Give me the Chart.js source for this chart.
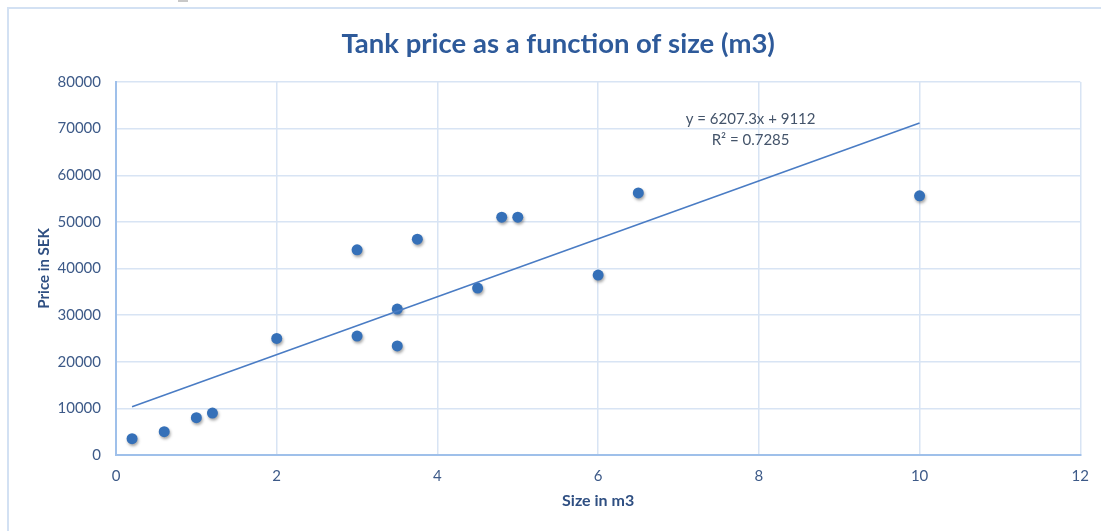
<!DOCTYPE html>
<html>
<head>
<meta charset="utf-8">
<script src="https://cdn.jsdelivr.net/npm/chart.js@4/dist/chart.umd.min.js"></script>
<style>
  html, body { margin: 0; padding: 0; background: #ffffff; }
  canvas { display: block; }
</style>
</head>
<body>
<canvas id="c" width="1101" height="531"></canvas>
<script>
// Tank sizes (m3) and prices (SEK)
const sizes  = [0.2, 0.6, 1.0, 1.2, 2.0, 3.0, 3.0, 3.5, 3.5, 3.75, 4.5, 4.8, 5.0, 6.0, 6.5, 10.0];
const prices = [3500, 5000, 8000, 9000, 25000, 44000, 25500, 31300, 23400, 46300, 35800, 51000, 51000, 38600, 56200, 55600];

// Linear trendline as stated in the equation label
const slope = 6207.3;
const intercept = 9112;
const rSquared = 0.7285;
const trendRange = [0.2, 10];

const xTicks = [0, 2, 4, 6, 8, 10, 12];
const yTicks = [0, 10000, 20000, 30000, 40000, 50000, 60000, 70000, 80000];

const titleText = 'Tank price as a function of size (m3)';
const xTitle = 'Size in m3';
const yTitle = 'Price in SEK';

const points = sizes.map((x, i) => ({ x: x, y: prices[i] }));
const trendPoints = trendRange.map(x => ({ x: x, y: intercept + slope * x }));

const FONT = 'Lato, "Open Sans", "DejaVu Sans", sans-serif';
const GRID = '#d8e4f4';
const AXIS = '#9fc0ea';
const TICK = '#3d5a88';

const frame = {
  id: 'frame',
  beforeDraw(chart) {
    const ctx = chart.ctx;
    ctx.save();
    ctx.fillStyle = '#ffffff';
    ctx.fillRect(0, 0, chart.width, chart.height);
    ctx.fillStyle = '#c8c8c8';
    ctx.fillRect(178, 0, 10, 2);
    ctx.strokeStyle = '#d3e1f3';
    ctx.lineWidth = 2;
    ctx.strokeRect(8, 8, chart.width + 20, chart.height + 20);
    ctx.restore();
  },
  beforeDatasetDraw(chart, args) {
    if (args.index === 1) {
      const ctx = chart.ctx;
      ctx.save();
      ctx.shadowColor = 'rgba(0,0,0,0.35)';
      ctx.shadowBlur = 3;
      ctx.shadowOffsetX = 1;
      ctx.shadowOffsetY = 2;
    }
  },
  afterDatasetDraw(chart, args) {
    if (args.index === 1) chart.ctx.restore();
  },
  afterDraw(chart) {
    const ctx = chart.ctx;
    const area = chart.chartArea;
    ctx.save();
    ctx.textAlign = 'center';
    ctx.textBaseline = 'middle';
    ctx.fillStyle = '#2e5a9a';
    ctx.font = 'bold 27.5px ' + FONT;
    ctx.fillText(titleText, (area.left + area.right) / 2 - 40, 44);

    const xs = chart.scales.x;
    const eqX = xs.getPixelForValue(trendRange[1]) - 169;
    ctx.fillStyle = '#44546a';
    ctx.font = '15px ' + FONT;
    ctx.fillText('y = ' + slope + 'x + ' + intercept, eqX, area.top + 37);
    ctx.fillText('R\u00B2 = ' + rSquared, eqX, area.top + 58);
    ctx.restore();
  }
};

new Chart(document.getElementById('c'), {
  type: 'scatter',
  data: {
    datasets: [
      {
        type: 'line',
        label: 'Trend',
        data: trendPoints,
        borderColor: '#4a7cc4',
        borderWidth: 1.6,
        pointRadius: 0,
        fill: false,
        order: 0
      },
      {
        label: 'Price',
        data: points,
        backgroundColor: '#3570b8',
        borderColor: '#3570b8',
        pointRadius: 5.5,
        pointBorderWidth: 0,
        order: 1
      }
    ]
  },
  options: {
    responsive: false,
    animation: false,
    devicePixelRatio: 1,
    layout: { padding: { left: 0, right: 19, top: 82, bottom: 0 } },
    plugins: {
      legend: { display: false },
      tooltip: { enabled: false },
      title: { display: false }
    },
    scales: {
      x: {
        type: 'linear',
        min: xTicks[0],
        max: xTicks[xTicks.length - 1],
        afterBuildTicks(s) { s.ticks = xTicks.map(v => ({ value: v })); },
        afterFit(s) { s.height = 76; },
        grid: { color: GRID, lineWidth: 1.5, drawTicks: false },
        border: { color: AXIS, width: 2 },
        ticks: {
          color: TICK, padding: 12, font: { family: FONT, size: 15 },
          callback: v => String(v)
        },
        title: {
          display: true,
          text: xTitle,
          color: '#2f4f82',
          font: { family: FONT, size: 16, weight: 'bold' },
          padding: { top: 0, bottom: 21 }
        }
      },
      y: {
        type: 'linear',
        min: yTicks[0],
        max: yTicks[yTicks.length - 1],
        afterBuildTicks(s) { s.ticks = yTicks.map(v => ({ value: v })); },
        afterFit(s) { s.width = 116; },
        grid: { color: GRID, lineWidth: 1.5, drawTicks: false },
        border: { color: AXIS, width: 2 },
        ticks: {
          color: TICK, padding: 15, font: { family: FONT, size: 15 },
          callback: v => String(v)
        },
        title: {
          display: true,
          text: yTitle,
          color: '#2f4f82',
          font: { family: FONT, size: 15, weight: 'bold' },
          padding: { top: 35, bottom: 0 }
        }
      }
    }
  },
  plugins: [frame]
});
</script>
</body>
</html>
